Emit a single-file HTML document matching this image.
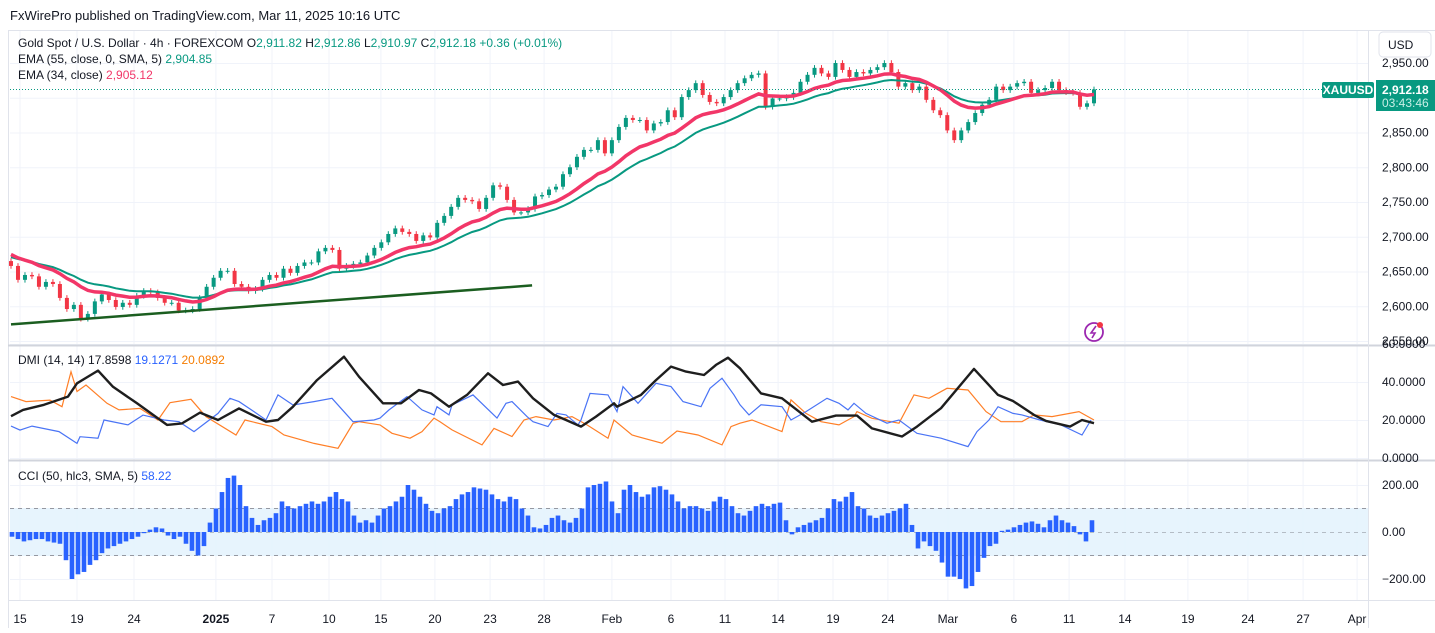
<!DOCTYPE html>
<html><head><meta charset="utf-8">
<style>
html,body{margin:0;padding:0;background:#fff;}
body{width:1435px;height:628px;overflow:hidden;position:relative;font-family:"Liberation Sans",sans-serif;}
svg text{font-family:"Liberation Sans",sans-serif;}
</style></head>
<body>
<svg id="chart" width="1435" height="628" xmlns="http://www.w3.org/2000/svg">
<text x="10" y="20" font-size="13" fill="#131722">FxWirePro published on TradingView.com, Mar 11, 2025 10:16 UTC</text>
<line x1="8" y1="30.5" x2="1435" y2="30.5" stroke="#e0e3eb"/>
<line x1="8.5" y1="30" x2="8.5" y2="628" stroke="#e0e3eb"/>
<g id="grid"></g>
<rect x="10" y="508" width="1358" height="48" fill="#e3f2fd" opacity="0.85"/>
<line x1="10" y1="508.5" x2="1368" y2="508.5" stroke="#9598a1" stroke-dasharray="4,4"/>
<line x1="10" y1="532.5" x2="1368" y2="532.5" stroke="#9598a1" stroke-dasharray="4,4" opacity="0.6"/>
<line x1="10" y1="555.5" x2="1368" y2="555.5" stroke="#9598a1" stroke-dasharray="4,4"/>
<g id="marks"></g>
<line x1="8" y1="345.5" x2="1435" y2="345.5" stroke="#d1d4dc" stroke-width="2"/>
<line x1="8" y1="460.5" x2="1435" y2="460.5" stroke="#d1d4dc" stroke-width="2"/>
<line x1="8" y1="600.5" x2="1435" y2="600.5" stroke="#e0e3eb"/>
<line x1="1368.5" y1="30" x2="1368.5" y2="628" stroke="#e0e3eb"/>
<g id="axes"></g>
<line x1="10" y1="89.5" x2="1368" y2="89.5" stroke="#089981" stroke-dasharray="1,2"/>
<rect x="1322" y="82" width="52" height="16" rx="2" fill="#089981"/>
<text x="1348" y="94" font-size="12" font-weight="bold" fill="#fff" text-anchor="middle">XAUUSD</text>
<rect x="1376" y="80" width="59" height="31" fill="#089981"/>
<text x="1382" y="94" font-size="12" font-weight="bold" fill="#fff">2,912.18</text>
<text x="1382" y="107" font-size="12" fill="#c8efe6">03:43:46</text>
<rect x="1379" y="32" width="52" height="25" rx="4" fill="#fff" stroke="#e0e3eb"/>
<text x="1388" y="49" font-size="12" fill="#131722">USD</text>
<g>
<circle cx="1094" cy="332" r="9" fill="none" stroke="#9c27b0" stroke-width="1.8"/>
<path d="M1096 326 L1091 333 L1095 333 L1092 338" fill="none" stroke="#9c27b0" stroke-width="1.6"/>
<circle cx="1100" cy="325" r="3" fill="#f23645"/>
</g>
<g font-size="12">
<text x="18" y="47" fill="#131722">Gold Spot / U.S. Dollar · 4h · FOREXCOM  O<tspan fill="#089981">2,911.82</tspan>  H<tspan fill="#089981">2,912.86</tspan>  L<tspan fill="#089981">2,910.97</tspan>  C<tspan fill="#089981">2,912.18</tspan>  <tspan fill="#089981">+0.36 (+0.01%)</tspan></text>
<text x="18" y="63" fill="#131722">EMA (55, close, 0, SMA, 5)  <tspan fill="#089981">2,904.85</tspan></text>
<text x="18" y="79" fill="#131722">EMA (34, close)  <tspan fill="#f23668">2,905.12</tspan></text>
</g>
<text x="18" y="364" font-size="12" fill="#131722">DMI (14, 14)  17.8598  <tspan fill="#2962ff">19.1271</tspan>  <tspan fill="#f57c00">20.0892</tspan></text>
<text x="18" y="480" font-size="12" fill="#131722">CCI (50, hlc3, SMA, 5)  <tspan fill="#2962ff">58.22</tspan></text>
</svg>
<script>
const closes=[2658,2638,2645,2643,2628,2635,2632,2612,2596,2602,2582,2589,2607,2617,2609,2599,2605,2602,2615,2622,2620,2612,2605,2605,2594,2594,2596,2612,2628,2641,2651,2651,2632,2628,2622,2625,2638,2645,2641,2654,2648,2658,2663,2663,2679,2684,2681,2654,2658,2661,2663,2673,2684,2692,2704,2712,2707,2704,2694,2702,2699,2720,2730,2743,2756,2753,2751,2740,2756,2774,2772,2753,2735,2735,2740,2758,2760,2768,2772,2790,2800,2815,2825,2825,2839,2820,2839,2858,2871,2868,2868,2853,2863,2865,2882,2872,2901,2911,2921,2904,2894,2892,2901,2911,2921,2928,2933,2935,2887,2899,2899,2901,2907,2923,2933,2943,2935,2930,2950,2940,2930,2937,2935,2940,2944,2950,2937,2916,2921,2911,2916,2897,2882,2875,2853,2839,2853,2865,2878,2890,2897,2916,2911,2916,2921,2923,2907,2911,2914,2923,2911,2908,2907,2887,2892,2912];
const firstOpen=2665;
const emaSeed34=2677, emaSeed55=2672;
const trendT=[0,173.7], trendP=[2574,2630];
const adx=[[0,22],[4,25.3],[11,28],[19,32.3],[22,39.3],[29,46],[34,37.5],[42,28.8],[52,17.4],[57,18.2],[63,23.9],[69,20],[76,26.1],[85,19.1],[89,20],[94,27],[102,41],[111,53.3],[116,42.8],[124,28.8],[130,28.8],[136,35.8],[140,34],[146,27],[152,33.2],[159,44.6],[164,38.4],[169,40.2],[174,31.4],[181,22.7],[185,20],[190,16.5],[195,21.8],[201,28.8],[202,27],[210,33.2],[215,41],[220,48.1],[225,45.5],[231,43.7],[235,49],[239,52.8],[243,47.2],[250,34],[257,31.4],[267,19.1],[275,22.3],[282,22.3],[287,15.6],[297,11.3],[302,16.5],[310,26.2],[321,46.9],[329,33.2],[334,30],[341,22.7],[345,19.5],[353,16.5],[357,20],[361,18.3]];
const plusDI=[[0,16.8],[3,14.7],[7,16.8],[16,13.9],[22,7.7],[23,11.2],[29,10.4],[31,20],[39,17.4],[44,22.6],[51,20],[56,19.1],[61,13.9],[69,23.5],[73,31.4],[76,29.7],[81,24.4],[85,20],[89,33.2],[94,27.9],[101,29.7],[107,31.4],[114,19.1],[121,20],[123,21],[126,25.3],[132,32.3],[137,25.3],[141,22.7],[142,27],[146,22.7],[147,27.9],[154,33.2],[162,21],[165,28.8],[167,29.7],[172,21.8],[174,19.1],[179,16.5],[182,23.5],[185,22.7],[189,17.4],[190,20],[193,34],[199,33.2],[202,24.4],[204,37.6],[209,28.8],[215,39.3],[220,37.6],[224,29.7],[230,27],[233,36.7],[237,42],[241,33.2],[243,28],[246,22.7],[250,28],[257,27],[260,20],[265,24.4],[272,31.4],[276,28.8],[279,25.3],[281,28.8],[285,23.5],[292,18.3],[296,20],[302,13],[310,10.4],[319,6],[322,13.9],[326,20],[329,27],[334,23.5],[337,22.7],[343,20],[350,17.4],[357,12.1],[360,20]];
const minusDI=[[0,32.3],[5,29.7],[13,30.5],[17,27],[20,45.4],[22,35],[25,38.4],[32,28.8],[36,25.3],[43,26.1],[49,20],[53,29.1],[60,30.9],[65,21.8],[75,12.1],[78,20],[87,16.5],[91,12.1],[101,7.7],[109,5.1],[114,18.2],[116,19.1],[123,17.4],[127,13],[133,10.4],[137,13.9],[141,21],[143,19.1],[147,14.8],[157,6.9],[161,15.6],[167,11.3],[171,20],[175,21.8],[181,20],[187,21.8],[192,17.4],[199,10.4],[201,20],[207,12.1],[217,7.8],[222,14.2],[229,12.1],[237,6.9],[240,16.5],[243,18.3],[247,20],[257,13.9],[260,30.6],[265,23.5],[270,19.1],[276,17.4],[281,21.8],[282,24.4],[287,20.9],[296,18.3],[301,33.2],[306,31.4],[312,36.7],[319,35.8],[325,24.4],[330,19.1],[337,19.1],[341,22.7],[347,21.8],[356,24.4],[361,20]];
const cci=[-20,-30,-40,-35,-30,-30,-40,-45,-50,-120,-200,-180,-170,-140,-120,-90,-70,-60,-50,-40,-30,-20,-5,10,20,15,-15,-30,-20,-50,-80,-100,-60,40,100,170,230,240,200,110,60,30,50,60,80,130,110,100,110,120,130,120,130,150,170,140,130,70,40,50,40,70,100,110,130,150,200,180,150,120,90,80,100,110,140,160,170,190,185,180,160,140,130,150,140,100,70,20,15,30,60,70,50,40,60,100,190,200,205,215,130,80,180,200,170,150,160,190,195,180,160,130,100,110,110,100,90,130,150,140,110,80,70,90,110,120,110,120,125,50,-10,20,30,40,50,60,100,140,130,150,170,110,100,70,60,70,80,90,100,120,30,-70,-40,-60,-80,-130,-190,-190,-200,-240,-230,-170,-110,-60,-50,5,10,20,30,40,45,35,20,50,70,50,40,25,-10,-40,50];
const priceTicks=[2550,2600,2650,2700,2750,2800,2850,2900,2950];
const priceTickLabels=["2,550.00","2,600.00","2,650.00","2,700.00","2,750.00","2,800.00","2,850.00","2,900.00","2,950.00"];
const dmiTicks=[0,20,40,60];
const dmiTickLabels=["0.0000","20.0000","40.0000","60.0000"];
const cciTicks=[-200,0,200];
const cciTickLabels=["−200.00","0.00","200.00"];
const timeTicks=[3,22,41,68.3,87,106,123.3,141.3,159.7,177.7,200.3,220,238,255.7,274,292.3,312.3,334.3,352.7,371.3,392.3,412.3,430.7,448.7];
const timeLabels=["15","19","24","2025","7","10","15","20","23","28","Feb","6","11","14","19","24","Mar","6","11","14","19","24","27","Apr"];

const NS="http://www.w3.org/2000/svg";
const X=t=>11+t*3;
const YP=p=>63+(2950-p)*0.695;
const YD=v=>458-v*1.9;
const YC=v=>532-v*0.235;
const marks=document.getElementById('marks'), grid=document.getElementById('grid'), axes=document.getElementById('axes');
function mk(tag,attrs,parent){const e=document.createElementNS(NS,tag);for(const k in attrs)e.setAttribute(k,attrs[k]);parent.appendChild(e);return e;}
priceTicks.forEach(p=>{const l=mk('line',{x1:10,x2:1368,y1:YP(p)+.5,y2:YP(p)+.5,stroke:'#f0f3fa'},grid);

});
dmiTicks.forEach(v=>{const l=mk('line',{x1:10,x2:1368,y1:YD(v)+.5,y2:YD(v)+.5,stroke:'#f0f3fa'},grid);

});
cciTicks.forEach(v=>{const l=mk('line',{x1:10,x2:1368,y1:YC(v)+.5,y2:YC(v)+.5,stroke:'#f0f3fa'},grid);

});
timeTicks.forEach(t=>{const l=mk('line',{x1:X(t),x2:X(t),y1:31,y2:600,stroke:'#f0f3fa'},grid);

});
priceTicks.forEach((p,i)=>{const e=mk('text',{x:1382,y:YP(p)+4,'font-size':12,fill:'#131722'},axes);e.textContent=priceTickLabels[i];

});
dmiTicks.forEach((v,i)=>{const e=mk('text',{x:1382,y:YD(v)+4,'font-size':12,fill:'#131722'},axes);e.textContent=dmiTickLabels[i];

});
cciTicks.forEach((v,i)=>{const e=mk('text',{x:1382,y:YC(v)+4,'font-size':12,fill:'#131722'},axes);e.textContent=cciTickLabels[i];

});
timeTicks.forEach((t,i)=>{const e=mk('text',{x:X(t),y:623,'font-size':12,fill:'#131722','text-anchor':'middle','font-weight':timeLabels[i]==='2025'?'bold':'normal'},axes);e.textContent=timeLabels[i];

});
const cStep=2;
cci.forEach((v,i)=>{const x=X(0.33+i*cStep);const y0=YC(0),y1=YC(v);
const r=mk('rect',{x:x-2.3,y:Math.min(y0,y1),width:4.6,height:Math.max(1,Math.abs(y1-y0)),fill:'#2962ff'},marks);

});
const n=closes.length, step=361/(n-1);
closes.forEach((c,i)=>{const o=i===0?firstOpen:closes[i-1];const x=X(i*step);
const up=c>=o;const col=up?'#089981':'#f23645';
const hi=Math.max(o,c)+4, lo=Math.min(o,c)-4;
const w=mk('line',{x1:x,x2:x,y1:YP(hi),y2:YP(lo),stroke:col,'stroke-width':1},marks);


const b=mk('rect',{x:x-2,y:Math.min(YP(o),YP(c)),width:4,height:Math.max(1,Math.abs(YP(o)-YP(c))),fill:col},marks);

});
function ema(seed,N){const a=2/(N+1);let e=seed;return closes.map(c=>(e=e+a*(c-e)));}
const e55=ema(emaSeed55,22), e34=ema(emaSeed34,14);
const pth=(arr)=>arr.map((v,i)=>(i?'L':'M')+X(i*step).toFixed(1)+' '+YP(v).toFixed(1)).join(' ');
const g55=mk('path',{d:pth(e55),fill:'none',stroke:'#089981','stroke-width':2},marks);


const g34=mk('path',{d:pth(e34),fill:'none',stroke:'#f23668','stroke-width':3.5},marks);


const tl=mk('line',{x1:X(trendT[0]),y1:YP(trendP[0]),x2:X(trendT[1]),y2:YP(trendP[1]),stroke:'#1b5e20','stroke-width':2.5},marks);


const dp=arr=>arr.map((p,i)=>(i?'L':'M')+X(p[0]).toFixed(1)+' '+YD(p[1]).toFixed(1)).join(' ');
const pm=mk('path',{d:dp(minusDI),fill:'none',stroke:'#ff7f27','stroke-width':1.2},marks);


const pp=mk('path',{d:dp(plusDI),fill:'none',stroke:'#4a74f5','stroke-width':1.2},marks);


const pa=mk('path',{d:dp(adx),fill:'none',stroke:'#1e1e1e','stroke-width':2.4,'stroke-linejoin':'round'},marks);


</script>
</body></html>
